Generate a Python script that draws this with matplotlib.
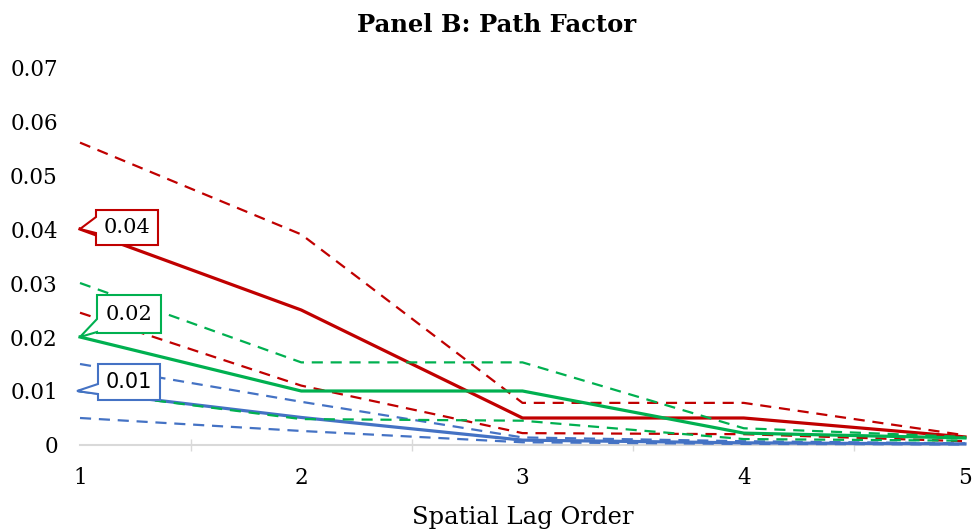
import matplotlib
matplotlib.use("Agg")
import matplotlib.pyplot as plt
import matplotlib.transforms as mtransforms
from matplotlib.patches import Polygon

# spatial lag orders
lags = [1, 2, 3, 4, 5]

# point estimates with upper / lower bands for each series
red_est = [0.040, 0.025, 0.0050, 0.0050, 0.0015]
red_hi = [0.056, 0.039, 0.0078, 0.0078, 0.0018]
red_lo = [0.0245, 0.0110, 0.0022, 0.0020, 0.0007]

green_est = [0.020, 0.010, 0.010, 0.0022, 0.0013]
green_hi = [0.030, 0.0153, 0.0153, 0.0031, 0.0015]
green_lo = [0.010, 0.0048, 0.0045, 0.0011, 0.0008]

blue_est = [0.010, 0.0051, 0.0009, 0.0004, 0.0002]
blue_hi = [0.015, 0.0080, 0.0014, 0.0007, 0.0003]
blue_lo = [0.0050, 0.0026, 0.0005, 0.0002, 0.0001]

yticks = [0, 0.01, 0.02, 0.03, 0.04, 0.05, 0.06, 0.07]
ytick_labels = ["0", "0.01", "0.02", "0.03", "0.04", "0.05", "0.06", "0.07"]

RED, GREEN, BLUE = "#C00000", "#00B050", "#4472C4"

plt.rcParams["font.family"] = ["DejaVu Serif"]

fig = plt.figure(figsize=(9.72, 5.29), dpi=100)
ax = fig.add_axes([0.0823, 0.1588, 0.9105, 0.7145])

for est, hi, lo, c in [(blue_est, blue_hi, blue_lo, BLUE),
                       (red_est, red_hi, red_lo, RED),
                       (green_est, green_hi, green_lo, GREEN)]:
    ax.plot(lags, est, color=c, lw=2.3, clip_on=False, solid_joinstyle="miter")
    for band in (hi, lo):
        ax.plot(lags, band, color=c, lw=1.6, ls=(0, (5, 3.5)), clip_on=False)

ax.set_xlim(1, 5)
ax.set_ylim(0, 0.07)
ax.set_yticks(yticks)
ax.set_yticklabels(ytick_labels)
ax.set_xticks(lags)
ax.set_xticks([1.5, 2.5, 3.5, 4.5, 5], minor=True)
ax.tick_params(axis="y", length=0, pad=16, labelsize=15.5)
ax.tick_params(axis="x", which="major", length=0, pad=16, labelsize=15.5)
ax.tick_params(axis="x", which="minor", direction="inout", length=9,
               width=1, color="#D9D9D9")
for side in ("top", "right", "left"):
    ax.spines[side].set_visible(False)
ax.spines["bottom"].set_color("#D9D9D9")
ax.spines["bottom"].set_linewidth(1.5)
ax.spines["bottom"].set_zorder(0)

ax.set_xlabel("Spatial Lag Order", fontsize=17.5, labelpad=12)
fig.text(0.511, 0.952, "Panel B: Path Factor", ha="center", va="center",
         fontsize=17.5, fontweight="bold")


def callout(x, y, text, color, box, notch, tip_dx, family):
    # box: left, right, bottom, top offsets in pixels from the data point
    l, r, b, t = box
    nu, nl = notch
    verts = [(tip_dx, 0), (l, nu), (l, t), (r, t), (r, b), (l, b), (l, nl)]
    verts = [(vx / fig.dpi, vy / fig.dpi) for vx, vy in verts]
    trans = fig.dpi_scale_trans + mtransforms.ScaledTranslation(x, y, ax.transData)
    ax.add_patch(Polygon(verts, closed=True, facecolor="white", edgecolor=color,
                         lw=1.5, transform=trans, clip_on=False, zorder=5))
    ax.text((l + r) / 2 / fig.dpi, (b + t) / 2 / fig.dpi, text, transform=trans,
            ha="center", va="center", fontsize=15, family=family, zorder=6)


callout(lags[0], red_est[0], "0.04", RED, (16, 78, -16, 19), (12, -4), 0, ["DejaVu Serif"])
callout(lags[0], green_est[0], "0.02", GREEN, (17, 81, 4, 42), (18, 5), 0, ["DejaVu Serif"])
callout(lags[0], blue_est[0], "0.01", BLUE, (18, 80, -9, 27), (7, -3), -3, ["DejaVu Sans"])

fig.savefig("out.png", dpi=100)
